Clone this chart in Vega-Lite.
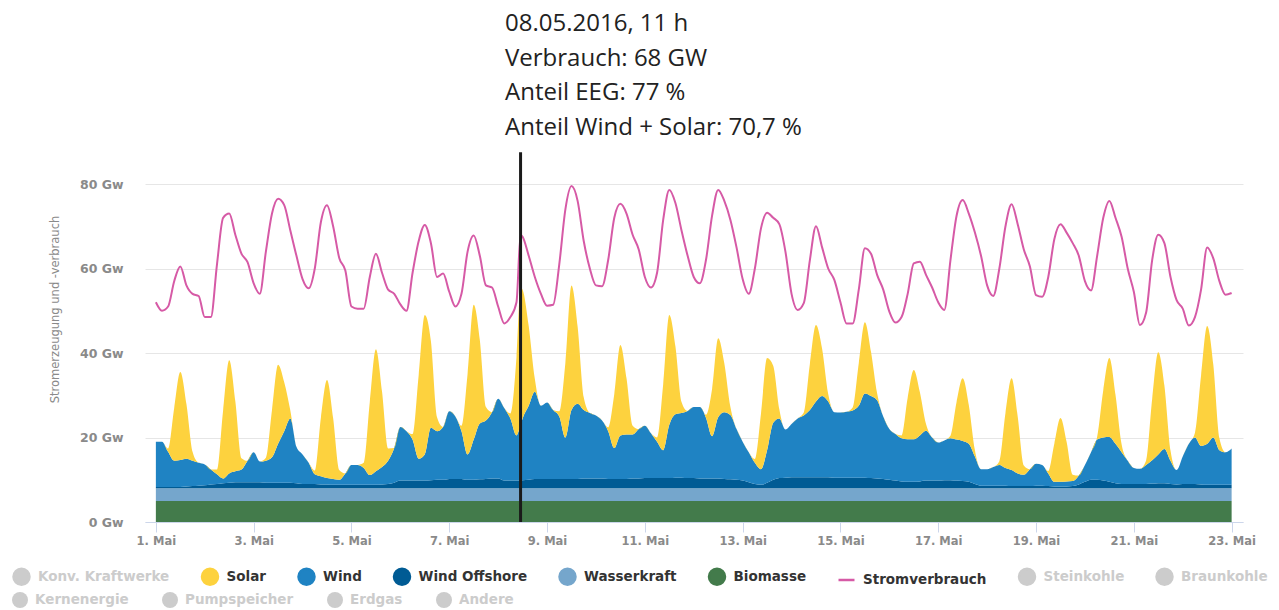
{
  "$schema": "https://vega.github.io/schema/vega-lite/v6.json",
  "width": 1098,
  "height": 338,
  "autosize": {"type": "none"},
  "padding": {"left": 145, "top": 184, "right": 36, "bottom": 88},
  "background": "white",
  "config": {"view": {"stroke": null}, "font": "DejaVu Sans"},
  "title": {
    "text": ["08.05.2016, 11 h", "Verbrauch: 68 GW", "Anteil EEG: 77 %", "Anteil Wind + Solar: 70,7 %"],
    "anchor": "start",
    "frame": "group",
    "dx": 360,
    "offset": 11,
    "fontSize": 24,
    "font": "Open Sans",
    "fontWeight": "normal",
    "color": "#222222",
    "lineHeight": 34.5
  },
  "datasets": {
    "series": [
      {"k": "bi", "name": "Biomasse", "rank": 1},
      {"k": "wa", "name": "Wasserkraft", "rank": 2},
      {"k": "of", "name": "Wind Offshore", "rank": 3},
      {"k": "wi", "name": "Wind", "rank": 4},
      {"k": "so", "name": "Solar", "rank": 5}
    ],
    "main": [
      {"t":"2016-05-01T00:00","so":0,"wi":10.7,"of":0.3,"wa":3,"bi":5,"v":52},
      {"t":"2016-05-01T03:00","so":0,"wi":10.7,"of":0.3,"wa":3,"bi":5,"v":50},
      {"t":"2016-05-01T06:00","so":0.8,"wi":8.3,"of":0.3,"wa":3,"bi":5,"v":51},
      {"t":"2016-05-01T09:00","so":12.5,"wi":6.2,"of":0.3,"wa":3,"bi":5,"v":57},
      {"t":"2016-05-01T12:00","so":20.8,"wi":6.4,"of":0.3,"wa":3,"bi":5,"v":60.5},
      {"t":"2016-05-01T15:00","so":12.9,"wi":6.6,"of":0.4,"wa":3,"bi":5,"v":56},
      {"t":"2016-05-01T18:00","so":2.1,"wi":6.0,"of":0.5,"wa":3,"bi":5,"v":54},
      {"t":"2016-05-01T21:00","so":0,"wi":5.4,"of":0.6,"wa":3,"bi":5,"v":53.5},
      {"t":"2016-05-02T00:00","so":0,"wi":4.9,"of":0.7,"wa":3,"bi":5,"v":48.5},
      {"t":"2016-05-02T03:00","so":0,"wi":3.5,"of":0.9,"wa":3,"bi":5,"v":48.5},
      {"t":"2016-05-02T06:00","so":1.1,"wi":2.3,"of":1.0,"wa":3,"bi":5,"v":61},
      {"t":"2016-05-02T09:00","so":16.1,"wi":1.1,"of":1.2,"wa":3,"bi":5,"v":72},
      {"t":"2016-05-02T12:00","so":26.8,"wi":2.2,"of":1.3,"wa":3,"bi":5,"v":73},
      {"t":"2016-05-02T15:00","so":16.6,"wi":2.6,"of":1.4,"wa":3,"bi":5,"v":68},
      {"t":"2016-05-02T18:00","so":2.7,"wi":3.0,"of":1.4,"wa":3,"bi":5,"v":63.5},
      {"t":"2016-05-02T21:00","so":0,"wi":5.1,"of":1.4,"wa":3,"bi":5,"v":61.5},
      {"t":"2016-05-03T00:00","so":0,"wi":7.1,"of":1.4,"wa":3,"bi":5,"v":56.5},
      {"t":"2016-05-03T03:00","so":0,"wi":4.9,"of":1.4,"wa":3,"bi":5,"v":54},
      {"t":"2016-05-03T06:00","so":0.7,"wi":5.2,"of":1.3,"wa":3,"bi":5,"v":64},
      {"t":"2016-05-03T09:00","so":11.2,"wi":6.0,"of":1.3,"wa":3,"bi":5,"v":73},
      {"t":"2016-05-03T12:00","so":18.7,"wi":9.2,"of":1.3,"wa":3,"bi":5,"v":76.5},
      {"t":"2016-05-03T15:00","so":11.6,"wi":12.2,"of":1.3,"wa":3,"bi":5,"v":75},
      {"t":"2016-05-03T18:00","so":1.9,"wi":15.2,"of":1.3,"wa":3,"bi":5,"v":69},
      {"t":"2016-05-03T21:00","so":0,"wi":8.6,"of":1.2,"wa":3,"bi":5,"v":63},
      {"t":"2016-05-04T00:00","so":0,"wi":7.0,"of":1.0,"wa":3,"bi":5,"v":57.5},
      {"t":"2016-05-04T03:00","so":0,"wi":5.0,"of":1.0,"wa":3,"bi":5,"v":55.3},
      {"t":"2016-05-04T06:00","so":0.9,"wi":2.3,"of":1.0,"wa":3,"bi":5,"v":60},
      {"t":"2016-05-04T09:00","so":13.9,"wi":1.9,"of":0.9,"wa":3,"bi":5,"v":71},
      {"t":"2016-05-04T12:00","so":23.2,"wi":1.5,"of":0.9,"wa":3,"bi":5,"v":75},
      {"t":"2016-05-04T15:00","so":14.4,"wi":1.4,"of":0.8,"wa":3,"bi":5,"v":70},
      {"t":"2016-05-04T18:00","so":2.3,"wi":1.2,"of":0.8,"wa":3,"bi":5,"v":62.5},
      {"t":"2016-05-04T21:00","so":0,"wi":2.7,"of":0.8,"wa":3,"bi":5,"v":59.5},
      {"t":"2016-05-05T00:00","so":0,"wi":4.7,"of":0.8,"wa":3,"bi":5,"v":51},
      {"t":"2016-05-05T03:00","so":0,"wi":4.7,"of":0.8,"wa":3,"bi":5,"v":50.5},
      {"t":"2016-05-05T06:00","so":1.2,"wi":4.0,"of":0.8,"wa":3,"bi":5,"v":50.5},
      {"t":"2016-05-05T09:00","so":17.3,"wi":2.3,"of":0.8,"wa":3,"bi":5,"v":58},
      {"t":"2016-05-05T12:00","so":28.9,"wi":3.2,"of":0.8,"wa":3,"bi":5,"v":63.5},
      {"t":"2016-05-05T15:00","so":17.9,"wi":4.1,"of":0.9,"wa":3,"bi":5,"v":59},
      {"t":"2016-05-05T18:00","so":2.9,"wi":5.5,"of":1.0,"wa":3,"bi":5,"v":55},
      {"t":"2016-05-05T21:00","so":0,"wi":8.2,"of":1.3,"wa":3,"bi":5,"v":54},
      {"t":"2016-05-06T00:00","so":0,"wi":12.7,"of":1.8,"wa":3,"bi":5,"v":51.5},
      {"t":"2016-05-06T03:00","so":0,"wi":11.7,"of":1.8,"wa":3,"bi":5,"v":50},
      {"t":"2016-05-06T06:00","so":1.3,"wi":9.7,"of":1.8,"wa":3,"bi":5,"v":59},
      {"t":"2016-05-06T09:00","so":19.8,"wi":5.2,"of":1.8,"wa":3,"bi":5,"v":66.5},
      {"t":"2016-05-06T12:00","so":33,"wi":6.2,"of":1.8,"wa":3,"bi":5,"v":70.3},
      {"t":"2016-05-06T15:00","so":20.5,"wi":12.4,"of":1.9,"wa":3,"bi":5,"v":66},
      {"t":"2016-05-06T18:00","so":3.3,"wi":11.5,"of":2.0,"wa":3,"bi":5,"v":58},
      {"t":"2016-05-06T21:00","so":0,"wi":12.5,"of":2.0,"wa":3,"bi":5,"v":58.8},
      {"t":"2016-05-07T00:00","so":0,"wi":16.0,"of":2.2,"wa":3,"bi":5,"v":54.5},
      {"t":"2016-05-07T03:00","so":0,"wi":14.8,"of":2.2,"wa":3,"bi":5,"v":51},
      {"t":"2016-05-07T06:00","so":1.3,"wi":11.3,"of":2.2,"wa":3,"bi":5,"v":54},
      {"t":"2016-05-07T09:00","so":19.1,"wi":6.0,"of":2.0,"wa":3,"bi":5,"v":64},
      {"t":"2016-05-07T12:00","so":31.9,"wi":9.5,"of":2.0,"wa":3,"bi":5,"v":67.8},
      {"t":"2016-05-07T15:00","so":19.8,"wi":13.2,"of":2.1,"wa":3,"bi":5,"v":63},
      {"t":"2016-05-07T18:00","so":3.2,"wi":13.8,"of":2.2,"wa":3,"bi":5,"v":56},
      {"t":"2016-05-07T21:00","so":0,"wi":15.7,"of":2.3,"wa":3,"bi":5,"v":55.5},
      {"t":"2016-05-08T00:00","so":0,"wi":18.9,"of":2.3,"wa":3,"bi":5,"v":51},
      {"t":"2016-05-08T03:00","so":0,"wi":17.2,"of":1.8,"wa":3,"bi":5,"v":47},
      {"t":"2016-05-08T06:00","so":1.2,"wi":14.7,"of":1.8,"wa":3,"bi":5,"v":48.5},
      {"t":"2016-05-08T09:00","so":18.5,"wi":10.7,"of":1.8,"wa":3,"bi":5,"v":52},
      {"t":"2016-05-08T11:00","so":32.5,"wi":13.2,"of":1.8,"wa":3,"bi":5,"v":68},
      {"t":"2016-05-08T12:00","so":30.5,"wi":14.6,"of":1.9,"wa":3,"bi":5,"v":67.5},
      {"t":"2016-05-08T15:00","so":18.9,"wi":17.5,"of":2.0,"wa":3,"bi":5,"v":63},
      {"t":"2016-05-08T18:00","so":3.1,"wi":20.6,"of":2.2,"wa":3,"bi":5,"v":58},
      {"t":"2016-05-08T21:00","so":0,"wi":17.3,"of":2.2,"wa":3,"bi":5,"v":54},
      {"t":"2016-05-09T00:00","so":0,"wi":18.1,"of":2.2,"wa":3,"bi":5,"v":51.2},
      {"t":"2016-05-09T03:00","so":0,"wi":16.3,"of":2.2,"wa":3,"bi":5,"v":51.4},
      {"t":"2016-05-09T06:00","so":1.2,"wi":14.8,"of":2.2,"wa":3,"bi":5,"v":61},
      {"t":"2016-05-09T09:00","so":17.7,"wi":9.8,"of":2.2,"wa":3,"bi":5,"v":74},
      {"t":"2016-05-09T12:00","so":29.5,"wi":16.3,"of":2.2,"wa":3,"bi":5,"v":79.5},
      {"t":"2016-05-09T15:00","so":18.3,"wi":17.8,"of":2.2,"wa":3,"bi":5,"v":76},
      {"t":"2016-05-09T18:00","so":3.0,"wi":16.2,"of":2.3,"wa":3,"bi":5,"v":66.5},
      {"t":"2016-05-09T21:00","so":0,"wi":15.5,"of":2.3,"wa":3,"bi":5,"v":60},
      {"t":"2016-05-10T00:00","so":0,"wi":14.9,"of":2.3,"wa":3,"bi":5,"v":56},
      {"t":"2016-05-10T03:00","so":0,"wi":13.7,"of":2.3,"wa":3,"bi":5,"v":55.8},
      {"t":"2016-05-10T06:00","so":0.9,"wi":11.3,"of":2.2,"wa":3,"bi":5,"v":62},
      {"t":"2016-05-10T09:00","so":12.8,"wi":7.3,"of":2.2,"wa":3,"bi":5,"v":72},
      {"t":"2016-05-10T12:00","so":21.4,"wi":10.3,"of":2.2,"wa":3,"bi":5,"v":75.3},
      {"t":"2016-05-10T15:00","so":13.3,"wi":10.5,"of":2.2,"wa":3,"bi":5,"v":73},
      {"t":"2016-05-10T18:00","so":2.1,"wi":10.4,"of":2.3,"wa":3,"bi":5,"v":68},
      {"t":"2016-05-10T21:00","so":0,"wi":11.7,"of":2.3,"wa":3,"bi":5,"v":64.5},
      {"t":"2016-05-11T00:00","so":0,"wi":12.4,"of":2.4,"wa":3,"bi":5,"v":58},
      {"t":"2016-05-11T03:00","so":0,"wi":10.6,"of":2.4,"wa":3,"bi":5,"v":55.5},
      {"t":"2016-05-11T06:00","so":1.0,"wi":8.6,"of":2.4,"wa":3,"bi":5,"v":59},
      {"t":"2016-05-11T09:00","so":15.6,"wi":6.6,"of":2.4,"wa":3,"bi":5,"v":71.5},
      {"t":"2016-05-11T12:00","so":26,"wi":12.6,"of":2.4,"wa":3,"bi":5,"v":78.6},
      {"t":"2016-05-11T15:00","so":16.1,"wi":15.0,"of":2.5,"wa":3,"bi":5,"v":75.5},
      {"t":"2016-05-11T18:00","so":2.6,"wi":15.3,"of":2.5,"wa":3,"bi":5,"v":69},
      {"t":"2016-05-11T21:00","so":0,"wi":15.9,"of":2.4,"wa":3,"bi":5,"v":63},
      {"t":"2016-05-12T00:00","so":0,"wi":16.8,"of":2.4,"wa":3,"bi":5,"v":58},
      {"t":"2016-05-12T03:00","so":0,"wi":16.9,"of":2.3,"wa":3,"bi":5,"v":56.5},
      {"t":"2016-05-12T06:00","so":0.7,"wi":14.4,"of":2.3,"wa":3,"bi":5,"v":62},
      {"t":"2016-05-12T09:00","so":11.2,"wi":10.0,"of":2.3,"wa":3,"bi":5,"v":72.5},
      {"t":"2016-05-12T12:00","so":18.7,"wi":14.5,"of":2.3,"wa":3,"bi":5,"v":78.6},
      {"t":"2016-05-12T15:00","so":11.6,"wi":15.8,"of":2.2,"wa":3,"bi":5,"v":76},
      {"t":"2016-05-12T18:00","so":1.9,"wi":15.2,"of":2.1,"wa":3,"bi":5,"v":71.5},
      {"t":"2016-05-12T21:00","so":0,"wi":12.0,"of":2.0,"wa":3,"bi":5,"v":65},
      {"t":"2016-05-13T00:00","so":0,"wi":9.2,"of":1.8,"wa":3,"bi":5,"v":57.5},
      {"t":"2016-05-13T03:00","so":0,"wi":7.1,"of":1.4,"wa":3,"bi":5,"v":54},
      {"t":"2016-05-13T06:00","so":0.9,"wi":5.0,"of":1.0,"wa":3,"bi":5,"v":60},
      {"t":"2016-05-13T09:00","so":13.1,"wi":3.7,"of":0.8,"wa":3,"bi":5,"v":69.5},
      {"t":"2016-05-13T12:00","so":21.8,"wi":7.7,"of":1.3,"wa":3,"bi":5,"v":73.2},
      {"t":"2016-05-13T15:00","so":13.5,"wi":13.5,"of":2.0,"wa":3,"bi":5,"v":72},
      {"t":"2016-05-13T18:00","so":2.2,"wi":14.1,"of":2.4,"wa":3,"bi":5,"v":70.5},
      {"t":"2016-05-13T21:00","so":0,"wi":11.4,"of":2.5,"wa":3,"bi":5,"v":64},
      {"t":"2016-05-14T00:00","so":0,"wi":12.6,"of":2.6,"wa":3,"bi":5,"v":54},
      {"t":"2016-05-14T03:00","so":0,"wi":13.9,"of":2.6,"wa":3,"bi":5,"v":50.2},
      {"t":"2016-05-14T06:00","so":0.7,"wi":14.6,"of":2.6,"wa":3,"bi":5,"v":51.8},
      {"t":"2016-05-14T09:00","so":10.9,"wi":15.9,"of":2.6,"wa":3,"bi":5,"v":62},
      {"t":"2016-05-14T12:00","so":18.1,"wi":17.9,"of":2.6,"wa":3,"bi":5,"v":70},
      {"t":"2016-05-14T15:00","so":11.2,"wi":19.2,"of":2.6,"wa":3,"bi":5,"v":65},
      {"t":"2016-05-14T18:00","so":1.8,"wi":17.9,"of":2.6,"wa":3,"bi":5,"v":60},
      {"t":"2016-05-14T21:00","so":0,"wi":15.5,"of":2.5,"wa":3,"bi":5,"v":57.3},
      {"t":"2016-05-15T00:00","so":0,"wi":15.4,"of":2.5,"wa":3,"bi":5,"v":52},
      {"t":"2016-05-15T03:00","so":0,"wi":15.6,"of":2.5,"wa":3,"bi":5,"v":47},
      {"t":"2016-05-15T06:00","so":0.7,"wi":15.9,"of":2.5,"wa":3,"bi":5,"v":47},
      {"t":"2016-05-15T09:00","so":10.1,"wi":17.0,"of":2.5,"wa":3,"bi":5,"v":55},
      {"t":"2016-05-15T12:00","so":16.9,"wi":19.9,"of":2.5,"wa":3,"bi":5,"v":64.8},
      {"t":"2016-05-15T15:00","so":10.5,"wi":19.4,"of":2.4,"wa":3,"bi":5,"v":63.5},
      {"t":"2016-05-15T18:00","so":1.7,"wi":18.5,"of":2.3,"wa":3,"bi":5,"v":58.5},
      {"t":"2016-05-15T21:00","so":0,"wi":14.8,"of":2.2,"wa":3,"bi":5,"v":55},
      {"t":"2016-05-16T00:00","so":0,"wi":12.0,"of":2.0,"wa":3,"bi":5,"v":49.8},
      {"t":"2016-05-16T03:00","so":0,"wi":11.0,"of":1.8,"wa":3,"bi":5,"v":47.2},
      {"t":"2016-05-16T06:00","so":0.7,"wi":10.2,"of":1.6,"wa":3,"bi":5,"v":48.5},
      {"t":"2016-05-16T09:00","so":9.8,"wi":10.1,"of":1.5,"wa":3,"bi":5,"v":54},
      {"t":"2016-05-16T12:00","so":16.4,"wi":10.1,"of":1.5,"wa":3,"bi":5,"v":61.2},
      {"t":"2016-05-16T15:00","so":10.2,"wi":10.9,"of":1.6,"wa":3,"bi":5,"v":61.6},
      {"t":"2016-05-16T18:00","so":1.6,"wi":11.8,"of":1.8,"wa":3,"bi":5,"v":58.5},
      {"t":"2016-05-16T21:00","so":0,"wi":10.2,"of":1.8,"wa":3,"bi":5,"v":55.5},
      {"t":"2016-05-17T00:00","so":0,"wi":9.0,"of":1.8,"wa":3,"bi":5,"v":52},
      {"t":"2016-05-17T03:00","so":0,"wi":9.4,"of":1.9,"wa":3,"bi":5,"v":50.2},
      {"t":"2016-05-17T06:00","so":0.6,"wi":9.9,"of":1.9,"wa":3,"bi":5,"v":62},
      {"t":"2016-05-17T09:00","so":8.9,"wi":9.7,"of":1.8,"wa":3,"bi":5,"v":72.5},
      {"t":"2016-05-17T12:00","so":14.8,"wi":9.5,"of":1.7,"wa":3,"bi":5,"v":76.2},
      {"t":"2016-05-17T15:00","so":9.2,"wi":9.0,"of":1.5,"wa":3,"bi":5,"v":73},
      {"t":"2016-05-17T18:00","so":1.5,"wi":6.5,"of":1.0,"wa":3,"bi":5,"v":68.5},
      {"t":"2016-05-17T21:00","so":0,"wi":3.9,"of":0.6,"wa":3,"bi":5,"v":63},
      {"t":"2016-05-18T00:00","so":0,"wi":3.9,"of":0.6,"wa":3,"bi":5,"v":56},
      {"t":"2016-05-18T03:00","so":0,"wi":4.4,"of":0.6,"wa":3,"bi":5,"v":53.5},
      {"t":"2016-05-18T06:00","so":0.9,"wi":4.9,"of":0.6,"wa":3,"bi":5,"v":60},
      {"t":"2016-05-18T09:00","so":13,"wi":4.2,"of":0.6,"wa":3,"bi":5,"v":70},
      {"t":"2016-05-18T12:00","so":21.7,"wi":3.8,"of":0.5,"wa":3,"bi":5,"v":75.2},
      {"t":"2016-05-18T15:00","so":13.5,"wi":3.0,"of":0.5,"wa":3,"bi":5,"v":70.5},
      {"t":"2016-05-18T18:00","so":2.2,"wi":2.7,"of":0.5,"wa":3,"bi":5,"v":64.5},
      {"t":"2016-05-18T21:00","so":0,"wi":4.0,"of":0.5,"wa":3,"bi":5,"v":60.5},
      {"t":"2016-05-19T00:00","so":0,"wi":5.2,"of":0.6,"wa":3,"bi":5,"v":53.7},
      {"t":"2016-05-19T03:00","so":0,"wi":4.9,"of":0.6,"wa":3,"bi":5,"v":53.3},
      {"t":"2016-05-19T06:00","so":0.6,"wi":3.0,"of":0.5,"wa":3,"bi":5,"v":58},
      {"t":"2016-05-19T09:00","so":9.1,"wi":1.1,"of":0.4,"wa":3,"bi":5,"v":67},
      {"t":"2016-05-19T12:00","so":15.1,"wi":1.1,"of":0.4,"wa":3,"bi":5,"v":70.5},
      {"t":"2016-05-19T15:00","so":9.4,"wi":1.2,"of":0.4,"wa":3,"bi":5,"v":68.5},
      {"t":"2016-05-19T18:00","so":1.5,"wi":1.2,"of":0.5,"wa":3,"bi":5,"v":66},
      {"t":"2016-05-19T21:00","so":0,"wi":2.1,"of":0.9,"wa":3,"bi":5,"v":63},
      {"t":"2016-05-20T00:00","so":0,"wi":4.0,"of":1.5,"wa":3,"bi":5,"v":57},
      {"t":"2016-05-20T03:00","so":0,"wi":6.5,"of":2.0,"wa":3,"bi":5,"v":54.8},
      {"t":"2016-05-20T06:00","so":0.7,"wi":9.5,"of":2.0,"wa":3,"bi":5,"v":63},
      {"t":"2016-05-20T09:00","so":11.2,"wi":10.2,"of":1.8,"wa":3,"bi":5,"v":72},
      {"t":"2016-05-20T12:00","so":18.7,"wi":10.6,"of":1.5,"wa":3,"bi":5,"v":76},
      {"t":"2016-05-20T15:00","so":11.6,"wi":9.3,"of":1.2,"wa":3,"bi":5,"v":72},
      {"t":"2016-05-20T18:00","so":1.9,"wi":7.5,"of":1.0,"wa":3,"bi":5,"v":67.5},
      {"t":"2016-05-20T21:00","so":0,"wi":5.5,"of":1.0,"wa":3,"bi":5,"v":60},
      {"t":"2016-05-21T00:00","so":0,"wi":3.8,"of":1.0,"wa":3,"bi":5,"v":54.5},
      {"t":"2016-05-21T03:00","so":0,"wi":3.6,"of":1.0,"wa":3,"bi":5,"v":46.6},
      {"t":"2016-05-21T06:00","so":1.0,"wi":4.5,"of":1.0,"wa":3,"bi":5,"v":49.5},
      {"t":"2016-05-21T09:00","so":14.5,"wi":5.5,"of":1.1,"wa":3,"bi":5,"v":62},
      {"t":"2016-05-21T12:00","so":24.2,"wi":6.8,"of":1.2,"wa":3,"bi":5,"v":68},
      {"t":"2016-05-21T15:00","so":15,"wi":8.1,"of":1.2,"wa":3,"bi":5,"v":66},
      {"t":"2016-05-21T18:00","so":2.4,"wi":5.5,"of":1.0,"wa":3,"bi":5,"v":58},
      {"t":"2016-05-21T21:00","so":0,"wi":3.4,"of":0.9,"wa":3,"bi":5,"v":52.5},
      {"t":"2016-05-22T00:00","so":0,"wi":6.5,"of":1.0,"wa":3,"bi":5,"v":50.5},
      {"t":"2016-05-22T03:00","so":0,"wi":9.5,"of":1.0,"wa":3,"bi":5,"v":46.5},
      {"t":"2016-05-22T06:00","so":1.1,"wi":11.0,"of":1.0,"wa":3,"bi":5,"v":48.5},
      {"t":"2016-05-22T09:00","so":16.7,"wi":9.1,"of":0.9,"wa":3,"bi":5,"v":55},
      {"t":"2016-05-22T12:00","so":27.9,"wi":9.7,"of":0.8,"wa":3,"bi":5,"v":65},
      {"t":"2016-05-22T15:00","so":17.3,"wi":11.2,"of":0.8,"wa":3,"bi":5,"v":62.4},
      {"t":"2016-05-22T18:00","so":2.8,"wi":8.2,"of":0.8,"wa":3,"bi":5,"v":57},
      {"t":"2016-05-22T21:00","so":0,"wi":7.7,"of":0.8,"wa":3,"bi":5,"v":53.8},
      {"t":"2016-05-23T00:00","so":0,"wi":8.6,"of":0.8,"wa":3,"bi":5,"v":54.2}
    ]
  },
  "layer": [
    {
      "data": {"name": "main"},
      "transform": [
        {"fold": ["bi", "wa", "of", "wi", "so"], "as": ["k", "gw"]},
        {"lookup": "k", "from": {"data": {"name": "series"}, "key": "k", "fields": ["name", "rank"]}}
      ],
      "mark": {"type": "area", "interpolate": "monotone"},
      "encoding": {
        "x": {
          "field": "t",
          "type": "temporal",
          "scale": {
            "domain": [
              {"year": 2016, "month": 4, "date": 30, "hours": 18, "minutes": 40},
              {"year": 2016, "month": 5, "date": 23, "hours": 5, "minutes": 35}
            ]
          },
          "axis": {
            "values": [
              {"year": 2016, "month": 5, "date": 1},
              {"year": 2016, "month": 5, "date": 3},
              {"year": 2016, "month": 5, "date": 5},
              {"year": 2016, "month": 5, "date": 7},
              {"year": 2016, "month": 5, "date": 9},
              {"year": 2016, "month": 5, "date": 11},
              {"year": 2016, "month": 5, "date": 13},
              {"year": 2016, "month": 5, "date": 15},
              {"year": 2016, "month": 5, "date": 17},
              {"year": 2016, "month": 5, "date": 19},
              {"year": 2016, "month": 5, "date": 21},
              {"year": 2016, "month": 5, "date": 23}
            ],
            "format": "%-d. Mai",
            "title": null,
            "grid": false,
            "domainColor": "#ccd6eb",
            "tickColor": "#ccd6eb",
            "tickSize": 10,
            "labelPadding": 3,
            "labelFont": "DejaVu Sans",
            "labelFontSize": 11.5,
            "labelFontWeight": "bold",
            "labelColor": "#8a8a8a",
            "labelOverlap": false,
            "labelFlush": false
          }
        },
        "y": {
          "field": "gw",
          "type": "quantitative",
          "stack": "zero",
          "scale": {"domain": [0, 80], "nice": false},
          "axis": {
            "values": [0, 20, 40, 60, 80],
            "labelExpr": "datum.value + ' Gw'",
            "grid": true,
            "gridColor": "#e6e6e6",
            "domain": false,
            "ticks": false,
            "labelPadding": 22,
            "labelFont": "DejaVu Sans",
            "labelFontSize": 12.5,
            "labelFontWeight": "bold",
            "labelColor": "#8a8a8a",
            "title": "Stromerzeugung und -verbrauch",
            "titleFont": "DejaVu Sans",
            "titleFontSize": 11.5,
            "titleFontWeight": "normal",
            "titleColor": "#8a8a8a",
            "titleAngle": -90,
            "titleX": -90,
            "titleY": 125,
            "titleAlign": "center",
            "titleBaseline": "middle"
          }
        },
        "color": {
          "field": "name",
          "type": "nominal",
          "scale": {
            "domain": ["Konv. Kraftwerke", "Solar", "Wind", "Wind Offshore", "Wasserkraft", "Biomasse", "Stromverbrauch", "Steinkohle", "Braunkohle"],
            "range": ["#cccccc", "#fdd23e", "#1f83c3", "#005b94", "#75a6cc", "#437b4b", "#d65aa6", "#cccccc", "#cccccc"]
          },
          "legend": {
            "orient": "none",
            "legendX": -133,
            "legendY": 383,
            "direction": "horizontal",
            "columns": 9,
            "title": null,
            "symbolType": {"expr": "datum.value === 'Stromverbrauch' ? 'stroke' : 'circle'"},
            "symbolStrokeColor": {"expr": "datum.value === 'Stromverbrauch' ? '#d65aa6' : 'transparent'"},
            "symbolStrokeWidth": 2.5,
            "symbolSize": 256,
            "symbolOpacity": 1,
            "labelFont": "DejaVu Sans",
            "labelFontSize": 13.5,
            "labelFontWeight": "bold",
            "labelColor": {"expr": "indexof(['Solar','Wind','Wind Offshore','Wasserkraft','Biomasse','Stromverbrauch'], datum.value) >= 0 ? '#333333' : '#cccccc'"},
            "labelOffset": 7,
            "labelLimit": 300,
            "columnPadding": 26.5
          }
        },
        "order": {"field": "rank", "type": "quantitative", "sort": "ascending"}
      }
    },
    {
      "data": {"name": "main"},
      "mark": {"type": "line", "interpolate": "monotone", "strokeWidth": 2},
      "encoding": {
        "x": {"field": "t", "type": "temporal"},
        "y": {"field": "v", "type": "quantitative"},
        "color": {"datum": "Stromverbrauch", "type": "nominal"}
      }
    },
    {
      "data": {"values": []},
      "mark": {"type": "point", "filled": true},
      "encoding": {
        "x": {"field": "t", "type": "temporal"},
        "y": {"field": "v", "type": "quantitative"},
        "fill": {
          "field": "cat",
          "type": "nominal",
          "scale": {
            "domain": ["Kernenergie", "Pumpspeicher", "Erdgas", "Andere"],
            "range": ["#cccccc", "#cccccc", "#cccccc", "#cccccc"]
          },
          "legend": {
            "orient": "none",
            "legendX": -133,
            "legendY": 408,
            "direction": "horizontal",
            "columns": 4,
            "title": null,
            "symbolType": "circle",
            "symbolSize": 256,
            "symbolOpacity": 1,
            "symbolStrokeWidth": 0,
            "labelFont": "DejaVu Sans",
            "labelFontSize": 13.5,
            "labelFontWeight": "bold",
            "labelColor": "#cccccc",
            "labelOffset": 7,
            "labelLimit": 300,
            "columnPadding": 33
          }
        }
      }
    },
    {
      "data": {"values": [{"t": "2016-05-08T11:00", "lo": 0, "hi": 87.5}]},
      "mark": {"type": "rule", "color": "#1a1a1a", "strokeWidth": 3},
      "encoding": {
        "x": {"field": "t", "type": "temporal"},
        "y": {"field": "lo", "type": "quantitative"},
        "y2": {"field": "hi"}
      }
    }
  ]
}
